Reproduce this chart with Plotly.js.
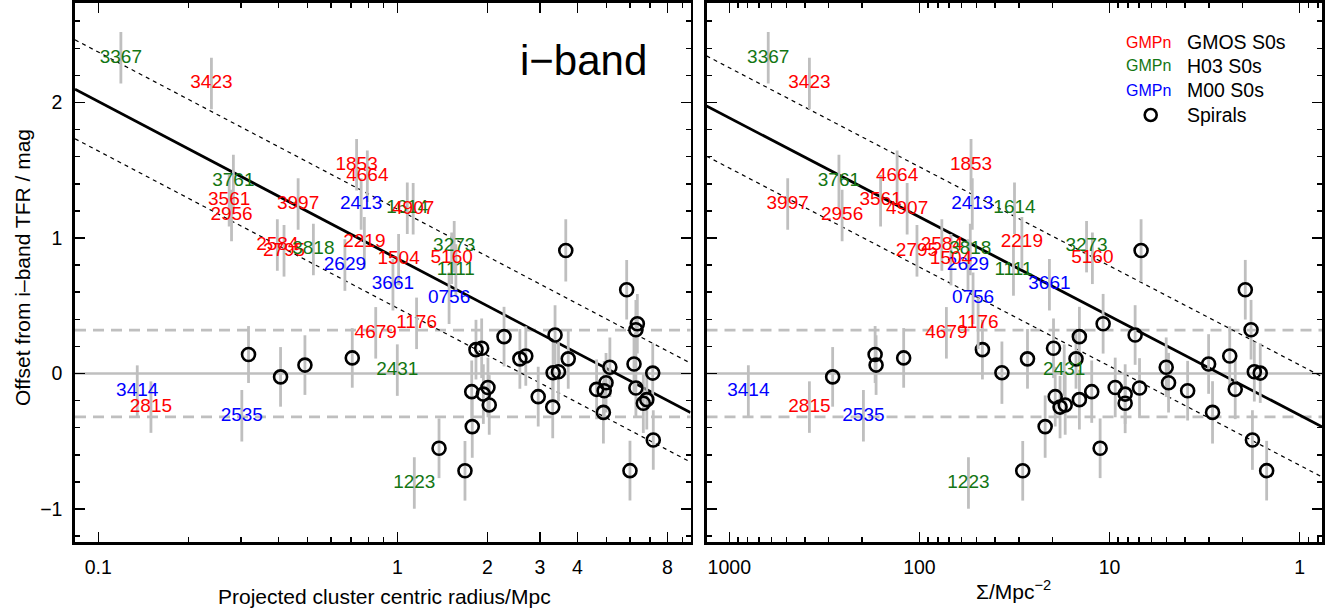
<!DOCTYPE html>
<html>
<head>
<meta charset="utf-8">
<script src="https://cdn.plot.ly/plotly-3.0.1.min.js"></script>
<style>
  html, body { margin: 0; padding: 0; background: #ffffff; }
  #chart { width: 1330px; height: 613px; }
</style>
</head>
<body>
<div id="chart"></div>
<script>
// ---------------- DATA ----------------
// S0 galaxies (labelled by GMP number)
const s0Name   = ['3367','3423','3761','3561','2956','3997','2584','2795','3818','1853','4664','2413','2219','2629','1504','3661','1614','4907','3273','5160','1111','0756','1176','4679','2431','3414','2815','2535','1223'];
const s0Sample = ['H03','GMOS','H03','GMOS','GMOS','GMOS','GMOS','GMOS','H03','GMOS','GMOS','M00','GMOS','M00','GMOS','M00','H03','GMOS','H03','GMOS','H03','M00','GMOS','GMOS','H03','M00','GMOS','M00','H03'];
const s0Radius = [0.119,0.239,0.283,0.274,0.279,0.466,0.397,0.418,0.524,0.731,0.794,0.757,0.776,0.668,1.01,0.967,1.08,1.13,1.55,1.52,1.57,1.49,1.16,0.847,1.0,0.135,0.150,0.302,1.14];
const s0Sigma  = [624,379,265,160,255,493,76.2,103,54,53.5,131,52.7,28.9,55.5,68.2,20.7,31.6,116,13.2,12.3,32,52.2,49.1,72.1,17.3,794,379,197,55.2];
const s0Offset = [2.33,2.14,1.415,1.275,1.165,1.25,0.948,0.905,0.915,1.54,1.455,1.25,0.965,0.80,0.84,0.655,1.22,1.215,0.936,0.85,0.764,0.555,0.37,0.30,0.025,-0.13,-0.248,-0.312,-0.808];
const s0Err    = [0.19,0.19,0.20,0.19,0.19,0.19,0.19,0.19,0.19,0.19,0.19,0.19,0.19,0.19,0.19,0.19,0.19,0.19,0.19,0.19,0.19,0.19,0.19,0.19,0.19,0.19,0.19,0.19,0.19];

// Spiral galaxies
const spRadius = [0.318,0.407,0.491,0.707,1.379,1.684,1.774,1.781,1.833,1.915,1.94,2.01,2.03,2.275,2.57,2.69,2.96,3.31,3.37,3.32,3.46,3.73,3.66,4.64,4.92,4.89,4.99,5.14,6.0,6.19,6.28,5.85,6.28,6.35,6.65,6.83,7.15,7.18];
const spSigma  = [171,286,169,121,11.2,28.6,12.4,21.8,46.6,19.7,8.27,9.33,17.1,14.4,27.0,2.33,19.3,18.2,7.33,36.8,1.73,15.0,6.82,2.18,3.88,2.87,4.89,5.03,1.49,3.01,6.95,1.93,1.80,10.8,8.27,14.4,1.61,1.77];
const spOffset = [0.14,-0.025,0.062,0.115,-0.552,-0.718,-0.134,-0.392,0.176,0.186,-0.152,-0.103,-0.232,0.272,0.108,0.129,-0.171,-0.248,0.284,0.006,0.013,0.108,0.908,-0.117,-0.127,-0.287,-0.068,0.046,-0.717,0.070,-0.107,0.618,0.323,0.367,-0.22,-0.193,0.003,-0.491];
const spErr    = [0.21,0.22,0.22,0.22,0.22,0.22,0.23,0.23,0.22,0.22,0.22,0.22,0.22,0.22,0.22,0.22,0.22,0.23,0.22,0.23,0.22,0.22,0.23,0.22,0.22,0.23,0.22,0.22,0.22,0.22,0.22,0.22,0.22,0.22,0.22,0.22,0.22,0.22];

// Fitted relations (offset = a + b*log10(x)) and their scatter
const fitRadius = {a: 0.848, b: -1.159, scatter: 0.365};
const fitSigma  = {a: -0.307, b: 0.731, scatter: 0.37};
const spiralScatter = 0.32;

// Tick labels
const radiusTicks = [0.1, 1, 2, 3, 4, 8];
const radiusTickText = ['0.1','1','2','3','4','8'];
const sigmaTicks = [1000, 100, 10, 1];
const sigmaTickText = ['1000','100','10','1'];
const offsetTicks = [-1, 0, 1, 2];
const offsetTickText = ['\u22121','0','1','2'];

const sampleColor = {GMOS: '#ff0000', H03: '#137613', M00: '#0000ff'};
const sampleLabel = {GMOS: 'GMOS S0s', H03: 'H03 S0s', M00: 'M00 S0s'};

// ---------------- LAYOUT GEOMETRY ----------------
const W = 1330, H = 613;
const M = {l: 75, r: 8, t: 3, b: 71};
const plotW = W - M.l - M.r, plotH = H - M.t - M.b;
const px2x = p => (p - M.l) / plotW;
const py2y = p => (H - M.b - p) / plotH;

const rangeR = [-1.0779, 0.9806];       // log10 radius
const rangeS = [3.12, -0.118];          // log10 Sigma (reversed)
const rangeY = [-1.2435, 2.734];

const FONT = 'Liberation Sans, Arial, Helvetica, sans-serif';
const GREY = '#bfbfbf';

// minor tick positions
const minorR = [];
[0.1, 1].forEach(d => { for (let k = 2; k <= 9; k++) { const v = k * d; if (radiusTicks.indexOf(v) < 0 && Math.log10(v) <= rangeR[1]) minorR.push(v); } });
const minorS = [];
[0.1, 1, 10, 100].forEach(d => { for (let k = 2; k <= 9; k++) { const v = k * d; const lv = Math.log10(v); if (lv >= rangeS[1] && lv <= rangeS[0]) minorS.push(v); } });
const minorY = [];
for (let i = -6; i <= 13; i++) { const v = +(i * 0.2).toFixed(1); if (offsetTicks.indexOf(v) < 0) minorY.push(v); }

// ---------------- TRACES ----------------
function fitTraces(fit, range, xa, ya) {
  const xs = [Math.pow(10, range[0]), Math.pow(10, range[1])];
  const yc = xs.map(x => fit.a + fit.b * Math.log10(x));
  const base = {x: xs, mode: 'lines', xaxis: xa, yaxis: ya, hoverinfo: 'skip', showlegend: false};
  return [
    Object.assign({}, base, {y: yc, line: {color: '#000', width: 2.8}}),
    Object.assign({}, base, {y: yc.map(v => v + fit.scatter), line: {color: '#000', width: 1.2, dash: '4px,4px'}}),
    Object.assign({}, base, {y: yc.map(v => v - fit.scatter), line: {color: '#000', width: 1.2, dash: '4px,4px'}})
  ];
}

function spiralTrace(xs, xa, ya) {
  return {
    x: xs, y: spOffset, xaxis: xa, yaxis: ya, mode: 'markers', type: 'scatter',
    marker: {symbol: 'circle-open', size: 13, color: '#000', line: {width: 2.6, color: '#000'}},
    error_y: {type: 'data', array: spErr, visible: true, color: GREY, thickness: 2.8, width: 0},
    hoverinfo: 'skip', showlegend: false
  };
}

function s0Trace(xs, xa, ya) {
  return {
    x: xs, y: s0Offset, xaxis: xa, yaxis: ya, mode: 'text', type: 'scatter',
    text: s0Name, textposition: 'middle center',
    textfont: {family: FONT, size: 19, color: s0Sample.map(s => sampleColor[s])},
    error_y: {type: 'data', array: s0Err, visible: true, color: GREY, thickness: 2.8, width: 0},
    hoverinfo: 'skip', showlegend: false
  };
}

const data = [].concat(
  fitTraces(fitRadius, rangeR, 'x', 'y'),
  fitTraces(fitSigma, rangeS, 'x2', 'y2'),
  [spiralTrace(spRadius, 'x', 'y'), spiralTrace(spSigma, 'x2', 'y2'),
   s0Trace(s0Radius, 'x', 'y'), s0Trace(s0Sigma, 'x2', 'y2')]
);

// ---------------- AXES ----------------
function xAxis(domain, range, tv, tt, minor) {
  return {
    domain: domain, type: 'log', range: range, anchor: domain[0] === 0 ? 'y' : 'y2',
    showgrid: false, zeroline: false,
    showline: true, linecolor: '#000', linewidth: 2.7, mirror: 'ticks',
    ticks: 'inside', ticklen: 10, tickwidth: 1.5, tickcolor: '#000',
    tickmode: 'array', tickvals: tv, ticktext: tt,
    tickfont: {family: FONT, size: 19.5, color: '#000'}, ticklabelstandoff: 6,
    minor: {tickmode: 'array', tickvals: minor, ticks: 'inside', ticklen: 5, tickwidth: 1.5, tickcolor: '#000', showgrid: false}
  };
}
function yAxis(anchor, showLabels) {
  return {
    domain: [0, 1], range: rangeY, anchor: anchor,
    showgrid: false, zeroline: false,
    showline: true, linecolor: '#000', linewidth: 2.7, mirror: 'ticks',
    ticks: 'inside', ticklen: 10, tickwidth: 1.5, tickcolor: '#000',
    tickmode: 'array', tickvals: offsetTicks, ticktext: offsetTickText,
    showticklabels: showLabels,
    tickfont: {family: FONT, size: 19.5, color: '#000'}, ticklabelstandoff: 6,
    minor: {tickmode: 'array', tickvals: minorY, ticks: 'inside', ticklen: 5, tickwidth: 1.5, tickcolor: '#000', showgrid: false}
  };
}

const dom1 = [0, px2x(690.5)], dom2 = [px2x(706.5), 1];

// reference lines (zero and +/- spiral scatter)
const shapes = [];
['x', 'x2'].forEach((xa, i) => {
  const ya = i === 0 ? 'y' : 'y2';
  shapes.push({type: 'line', xref: xa + ' domain', yref: ya, x0: 0, x1: 1, y0: 0, y1: 0, layer: 'below', line: {color: GREY, width: 2.6}});
  [spiralScatter, -spiralScatter].forEach(v => shapes.push({type: 'line', xref: xa + ' domain', yref: ya, x0: 0, x1: 1, y0: v, y1: v, layer: 'below', line: {color: GREY, width: 2.6, dash: '11px,7px'}}));
});
// legend circle
shapes.push({type: 'circle', xref: 'paper', yref: 'paper', xsizemode: 'pixel', ysizemode: 'pixel',
  xanchor: px2x(1150.7), yanchor: py2y(115), x0: -6, x1: 6, y0: -6, y1: 6, line: {color: '#000', width: 2.6}});

const annotations = [
  {text: 'Offset from i\u2013band TFR / mag', xref: 'paper', yref: 'paper', x: px2x(22), y: py2y(268), textangle: -90,
   showarrow: false, xanchor: 'center', yanchor: 'middle', font: {family: FONT, size: 21, color: '#000'}},
  {text: 'Projected cluster centric radius/Mpc', xref: 'paper', yref: 'paper', x: px2x(384), y: py2y(596),
   showarrow: false, xanchor: 'center', yanchor: 'middle', font: {family: FONT, size: 21, color: '#000'}},
  {text: '\u03A3/Mpc<sup>\u22122</sup>', xref: 'paper', yref: 'paper', x: px2x(1013), y: py2y(590),
   showarrow: false, xanchor: 'center', yanchor: 'middle', font: {family: FONT, size: 21, color: '#000'}},
  {text: 'i\u2212band', xref: 'paper', yref: 'paper', x: px2x(583), y: py2y(61),
   showarrow: false, xanchor: 'center', yanchor: 'middle', font: {family: FONT, size: 42, color: '#000'}}
];
const legendRows = [['GMOS', 42], ['H03', 65.7], ['M00', 90]];
legendRows.forEach(([s, py]) => {
  annotations.push({text: 'GMPn', xref: 'paper', yref: 'paper', x: px2x(1173), y: py2y(py), showarrow: false,
    xanchor: 'right', yanchor: 'middle', font: {family: FONT, size: 16, color: sampleColor[s]}});
  annotations.push({text: sampleLabel[s], xref: 'paper', yref: 'paper', x: px2x(1185), y: py2y(py), showarrow: false,
    xanchor: 'left', yanchor: 'middle', font: {family: FONT, size: 19.5, color: '#000'}});
});
annotations.push({text: 'Spirals', xref: 'paper', yref: 'paper', x: px2x(1185), y: py2y(115), showarrow: false,
  xanchor: 'left', yanchor: 'middle', font: {family: FONT, size: 19.5, color: '#000'}});

const layout = {
  width: W, height: H, margin: M,
  paper_bgcolor: '#fff', plot_bgcolor: '#fff',
  showlegend: false,
  xaxis: xAxis(dom1, rangeR, radiusTicks, radiusTickText, minorR),
  xaxis2: xAxis(dom2, rangeS, sigmaTicks, sigmaTickText, minorS),
  yaxis: yAxis('x', true),
  yaxis2: yAxis('x2', false),
  shapes: shapes,
  annotations: annotations,
  font: {family: FONT, color: '#000'}
};

Plotly.newPlot('chart', data, layout, {displayModeBar: false, staticPlot: true});
</script>
</body>
</html>
